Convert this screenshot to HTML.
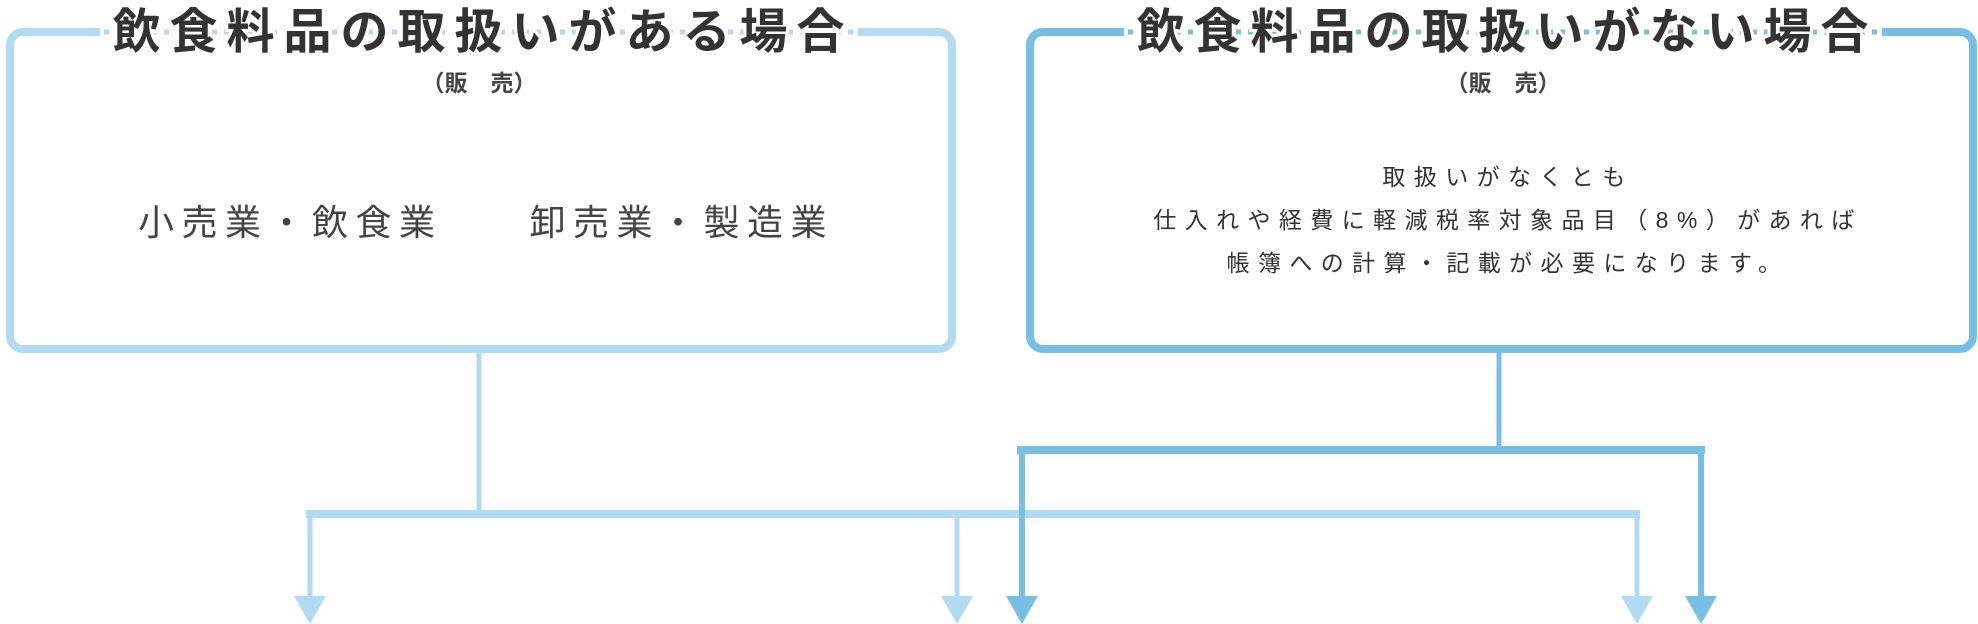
<!DOCTYPE html>
<html><head><meta charset="utf-8"><style>
html,body{margin:0;padding:0;background:#fff;}
svg{display:block;}
text{font-family:"Liberation Sans","Noto Sans CJK JP",sans-serif;}
</style></head><body>
<svg width="1978" height="624" viewBox="0 0 1978 624" xmlns="http://www.w3.org/2000/svg">
<rect x="10" y="32" width="942" height="317" rx="13" fill="none" stroke="#b0dbf0" stroke-width="8"/>
<rect x="1030" y="32" width="943" height="317" rx="13" fill="none" stroke="#78bfe5" stroke-width="8"/>
<rect x="100" y="20" width="758" height="26" fill="#fff"/>
<line x1="104" y1="32" x2="854" y2="32" stroke="#b0dbf0" stroke-width="5" stroke-dasharray="5 7"/>
<rect x="1124" y="20" width="758" height="26" fill="#fff"/>
<line x1="1128" y1="32" x2="1878" y2="32" stroke="#78bfe5" stroke-width="5" stroke-dasharray="5 7"/>
<text x="483" y="48" font-size="48" font-weight="bold" fill="#333" text-anchor="middle" letter-spacing="9" stroke="#fff" stroke-width="6" paint-order="stroke">飲食料品の取扱いがある場合</text>
<text x="1507" y="48" font-size="48" font-weight="bold" fill="#333" text-anchor="middle" letter-spacing="9" stroke="#fff" stroke-width="6" paint-order="stroke">飲食料品の取扱いがない場合</text>
<text x="479" y="91" font-size="23" font-weight="bold" fill="#444" text-anchor="middle">（販　売）</text>
<text x="1503" y="91" font-size="23" font-weight="bold" fill="#444" text-anchor="middle">（販　売）</text>
<text x="486" y="235" font-size="36" fill="#444" text-anchor="middle" letter-spacing="7.5">小売業・飲食業　　卸売業・製造業</text>
<g font-size="23" fill="#333" text-anchor="middle" letter-spacing="8.4">
<text x="1508" y="185">取扱いがなくとも</text>
<text x="1508" y="228">仕入れや経費に軽減税率対象品目（8%）があれば</text>
<text x="1508" y="271">帳簿への計算・記載が必要になります。</text>
</g>
<g stroke="#b0dbf0" fill="none">
<line x1="479" y1="353" x2="479" y2="514" stroke-width="5"/>
<line x1="306" y1="514" x2="1640" y2="514" stroke-width="8"/>
<line x1="310" y1="514" x2="310" y2="598" stroke-width="5"/>
<line x1="957" y1="514" x2="957" y2="598" stroke-width="5"/>
<line x1="1637" y1="514" x2="1637" y2="598" stroke-width="5"/>
</g>
<g fill="#b0dbf0">
<polygon points="294,596 326,596 310,624"/>
<polygon points="941,596 973,596 957,624"/>
<polygon points="1621,596 1653,596 1637,624"/>
</g>
<g stroke="#78bfe5" fill="none">
<line x1="1499" y1="353" x2="1499" y2="450" stroke-width="5"/>
<line x1="1017" y1="450" x2="1705" y2="450" stroke-width="8"/>
<line x1="1022" y1="450" x2="1022" y2="598" stroke-width="6"/>
<line x1="1701" y1="450" x2="1701" y2="598" stroke-width="6"/>
</g>
<g fill="#78bfe5">
<polygon points="1006,596 1038,596 1022,624"/>
<polygon points="1685,596 1717,596 1701,624"/>
</g>
</svg>
</body></html>
